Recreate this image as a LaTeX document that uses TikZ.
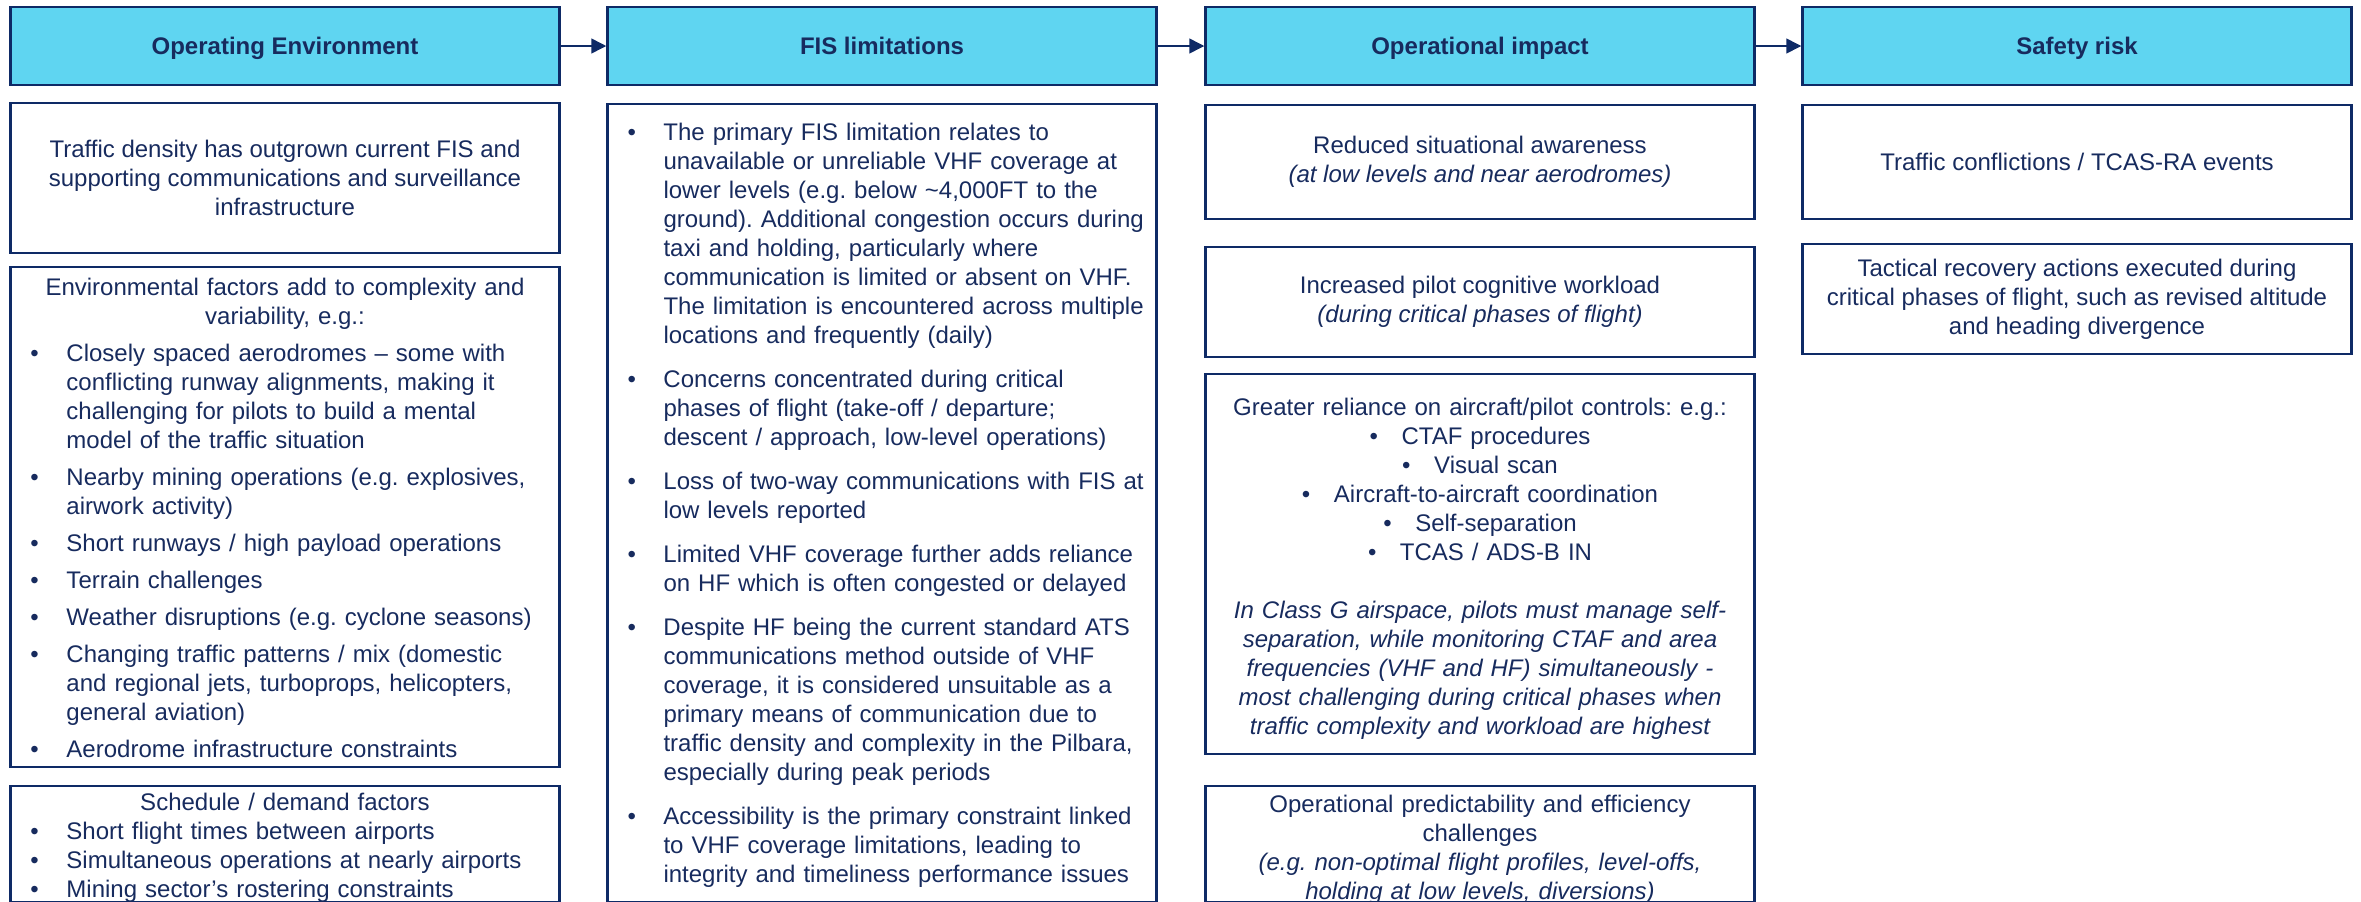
\documentclass[tikz,border=0pt]{standalone}
\usepackage{fontspec}
\setmainfont{Liberation Sans}
\usetikzlibrary{arrows.meta}

\definecolor{ink}{HTML}{172B5E}
\definecolor{rule}{HTML}{0E2A66}
\definecolor{headfill}{HTML}{5FD5F1}

% bullet rows: first line carries the bullet, follow-on lines are indented
\newcommand{\bitem}[1]{\leftline{\hbox to 28pt{\hskip10pt\textbullet\hss}#1}}
\newcommand{\bmore}[1]{\leftline{\hskip28pt #1}}
% centred bullet row
\newcommand{\cbul}[1]{\centerline{\hbox to 16pt{\textbullet\hss}#1}}

\begin{document}
\frenchspacing
\begin{tikzpicture}[x=0.5pt,y=-0.5pt,font=\fontsize{12}{14.5}\selectfont,
  head/.style={draw=rule,line width=1.25pt,fill=headfill,text=ink,
    minimum width=274.5pt,minimum height=39pt,inner sep=0pt,text depth=0pt,
    font=\fontsize{12}{14.5}\selectfont\bfseries},
  cell/.style={draw=rule,line width=1.25pt,text=ink,align=center,
    minimum width=274.5pt,inner sep=0pt},
  txt/.style={text=ink,text width=274.5pt,inner sep=0pt,anchor=north},
  flow/.style={rule,line width=0.75pt,-{Triangle[length=7.5pt,width=7.5pt]}}]

\useasboundingbox (0,0) rectangle (2361,901);
\clip (0,0) rectangle (2361,901);

% column heads
\node[head] (envhead) at (285,46) {Operating Environment};
\node[head] (fishead) at (882,46) {FIS limitations};
\node[head] (imphead) at (1480,46) {Operational impact};
\node[head] (riskhead) at (2077,46) {Safety risk};

\draw[flow] (envhead) -- (fishead);
\draw[flow] (fishead) -- (imphead);
\draw[flow] (imphead) -- (riskhead);

% operating environment
\node[cell,minimum height=75pt] (density) at (285,178)
  {Traffic density has outgrown current FIS and\\
   supporting communications and surveillance\\
   infrastructure};

\node[cell,minimum height=250pt] (envbox) at (285,517) {};
\node[txt] (envtext) at (285,277.5) {%
  \centerline{Environmental factors add to complexity and}
  \centerline{variability, e.g.:}
  \vskip4pt
  \bitem{Closely spaced aerodromes – some with}
  \bmore{conflicting runway alignments, making it}
  \bmore{challenging for pilots to build a mental}
  \bmore{model of the traffic situation}
  \vskip4pt
  \bitem{Nearby mining operations (e.g. explosives,}
  \bmore{airwork activity)}
  \vskip4pt
  \bitem{Short runways / high payload operations}
  \vskip4pt
  \bitem{Terrain challenges}
  \vskip4pt
  \bitem{Weather disruptions (e.g. cyclone seasons)}
  \vskip4pt
  \bitem{Changing traffic patterns / mix (domestic}
  \bmore{and regional jets, turboprops, helicopters,}
  \bmore{general aviation)}
  \vskip4pt
  \bitem{Aerodrome infrastructure constraints}};

\node[cell,minimum height=58pt] (schedbox) at (285,844) {};
\node[txt] (schedtext) at (285,792.5) {%
  \centerline{Schedule / demand factors}
  \bitem{Short flight times between airports}
  \bitem{Simultaneous operations at nearly airports}
  \bitem{Mining sector’s rostering constraints}};

% FIS limitations
\node[cell,minimum height=399pt] (fisbox) at (882,503) {};
\node[txt] (fistext) at (882,122.5) {%
  \bitem{The primary FIS limitation relates to}
  \bmore{unavailable or unreliable VHF coverage at}
  \bmore{lower levels (e.g. below \textasciitilde 4,000FT to the}
  \bmore{ground). Additional congestion occurs during}
  \bmore{taxi and holding, particularly where}
  \bmore{communication is limited or absent on VHF.}
  \bmore{The limitation is encountered across multiple}
  \bmore{locations and frequently (daily)}
  \vskip7.5pt
  \bitem{Concerns concentrated during critical}
  \bmore{phases of flight (take-off / departure;}
  \bmore{descent / approach, low-level operations)}
  \vskip7.5pt
  \bitem{Loss of two-way communications with FIS at}
  \bmore{low levels reported}
  \vskip7.5pt
  \bitem{Limited VHF coverage further adds reliance}
  \bmore{on HF which is often congested or delayed}
  \vskip7.5pt
  \bitem{Despite HF being the current standard ATS}
  \bmore{communications method outside of VHF}
  \bmore{coverage, it is considered unsuitable as a}
  \bmore{primary means of communication due to}
  \bmore{traffic density and complexity in the Pilbara,}
  \bmore{especially during peak periods}
  \vskip7.5pt
  \bitem{Accessibility is the primary constraint linked}
  \bmore{to VHF coverage limitations, leading to}
  \bmore{integrity and timeliness performance issues}};

% operational impact
\node[cell,minimum height=57pt] (awareness) at (1480,162)
  {Reduced situational awareness\\
   \textit{(at low levels and near aerodromes)}};
\node[cell,minimum height=55pt] (workload) at (1480,302)
  {Increased pilot cognitive workload\\
   \textit{(during critical phases of flight)}};

\node[cell,minimum height=190pt] (relybox) at (1480,564) {};
\node[txt] (relytext) at (1480,397.5) {%
  \centerline{Greater reliance on aircraft/pilot controls: e.g.:}
  \cbul{CTAF procedures}
  \cbul{Visual scan}
  \cbul{Aircraft-to-aircraft coordination}
  \cbul{Self-separation}
  \cbul{TCAS / ADS-B IN}
  \vskip14.5pt
  \itshape
  \centerline{In Class G airspace, pilots must manage self-}
  \centerline{separation, while monitoring CTAF and area}
  \centerline{frequencies (VHF and HF) simultaneously -}
  \centerline{most challenging during critical phases when}
  \centerline{traffic complexity and workload are highest}};

\node[cell,minimum height=58pt] (predictbox) at (1480,844) {};
\node[txt] (predicttext) at (1480,794.5) {%
  \centerline{Operational predictability and efficiency}
  \centerline{challenges}
  \itshape
  \centerline{(e.g. non-optimal flight profiles, level-offs,}
  \centerline{holding at low levels, diversions)}};

% safety risk
\node[cell,minimum height=57pt] (conflicts) at (2077,162)
  {Traffic conflictions / TCAS-RA events};
\node[cell,minimum height=55pt] (recovery) at (2077,299)
  {Tactical recovery actions executed during\\
   critical phases of flight, such as revised altitude\\
   and heading divergence};

\end{tikzpicture}
\end{document}
